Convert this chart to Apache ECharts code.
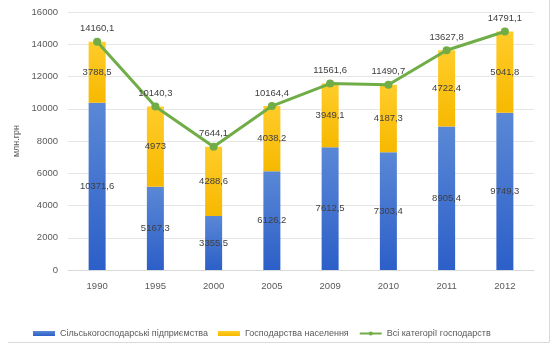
<!DOCTYPE html>
<html><head><meta charset="utf-8">
<script src="https://cdn.jsdelivr.net/npm/echarts@6/dist/echarts.min.js"></script>
<style>html,body{margin:0;padding:0;background:#fff}#c{width:558px;height:349px}</style>
</head><body><div id="c"></div>
<script>
const categories = ['1990','1995','2000','2005','2009','2010','2011','2012'];
const enterprises = [10371.6, 5167.3, 3355.5, 6126.2, 7612.5, 7303.4, 8905.4, 9749.3];
const households = [3788.5, 4973, 4288.6, 4038.2, 3949.1, 4187.3, 4722.4, 5041.8];
const allCategories = [14160.1, 10140.3, 7644.1, 10164.4, 11561.6, 11490.7, 13627.8, 14791.1];
const seriesNames = ['Сільськогосподарські підприємства', 'Господарства населення', 'Всі категорії господарств'];
const yTicks = {min: 0, max: 16000, interval: 2000};

const fmt = p => String(p.value).replace('.', ',');
const font = 'Liberation Sans, Arial, sans-serif';
const chart = echarts.init(document.getElementById('c'));
chart.setOption({
  animation: false,
  color: ['#3d6fcf', '#ffc000', '#70ad47'],
  textStyle: {fontFamily: font},
  grid: {left: 68, right: 24, top: 12, bottom: 79},
  graphic: [
    {type: 'line', shape: {x1: 549.5, y1: 0, x2: 549.5, y2: 342}, style: {stroke: '#d9d9d9', lineWidth: 1}},
    {type: 'line', shape: {x1: 8, y1: 342.5, x2: 549.5, y2: 342.5}, style: {stroke: '#d9d9d9', lineWidth: 1}}
  ],
  legend: {
    bottom: 6, left: 28, itemGap: 10, itemWidth: 22, itemHeight: 5,
    textStyle: {fontSize: 9, color: '#595959', fontFamily: font},
    data: [
      {name: seriesNames[0], icon: 'rect'},
      {name: seriesNames[1], icon: 'rect'},
      {name: seriesNames[2]}
    ]
  },
  xAxis: {
    type: 'category', data: categories,
    axisLine: {lineStyle: {color: '#d9d9d9'}},
    axisTick: {show: false},
    axisLabel: {color: '#595959', fontSize: 9.5, margin: 11}
  },
  yAxis: {
    type: 'value', min: yTicks.min, max: yTicks.max, interval: yTicks.interval,
    name: 'млн.грн', nameLocation: 'middle', nameGap: 40, nameRotate: 90,
    nameTextStyle: {color: '#595959', fontSize: 9},
    axisLabel: {color: '#595959', fontSize: 9.5, margin: 10, formatter: v => String(v)},
    splitLine: {lineStyle: {color: '#e6e6e6'}},
    axisLine: {show: false}, axisTick: {show: false}
  },
  series: [
    {
      name: seriesNames[0], type: 'bar', stack: 's', data: enterprises, barWidth: 17,
      itemStyle: {color: new echarts.graphic.LinearGradient(0, 0, 0, 1, [
        {offset: 0, color: '#5a88d6'}, {offset: 1, color: '#2c5fc8'}])},
      label: {show: true, position: 'inside', formatter: fmt, color: '#404040', fontSize: 9.5}
    },
    {
      name: seriesNames[1], type: 'bar', stack: 's', data: households, barWidth: 17,
      itemStyle: {color: new echarts.graphic.LinearGradient(0, 0, 0, 1, [
        {offset: 0, color: '#ffcc2a'}, {offset: 1, color: '#f7b900'}])},
      label: {show: true, position: 'inside', formatter: fmt, color: '#404040', fontSize: 9.5}
    },
    {
      name: seriesNames[2], type: 'line', data: allCategories,
      symbol: 'circle', symbolSize: 8,
      lineStyle: {color: '#70ad47', width: 3},
      itemStyle: {color: '#70ad47'},
      label: {show: true, position: 'top', distance: 4, formatter: fmt, color: '#404040', fontSize: 9.5}
    }
  ]
});
</script></body></html>
